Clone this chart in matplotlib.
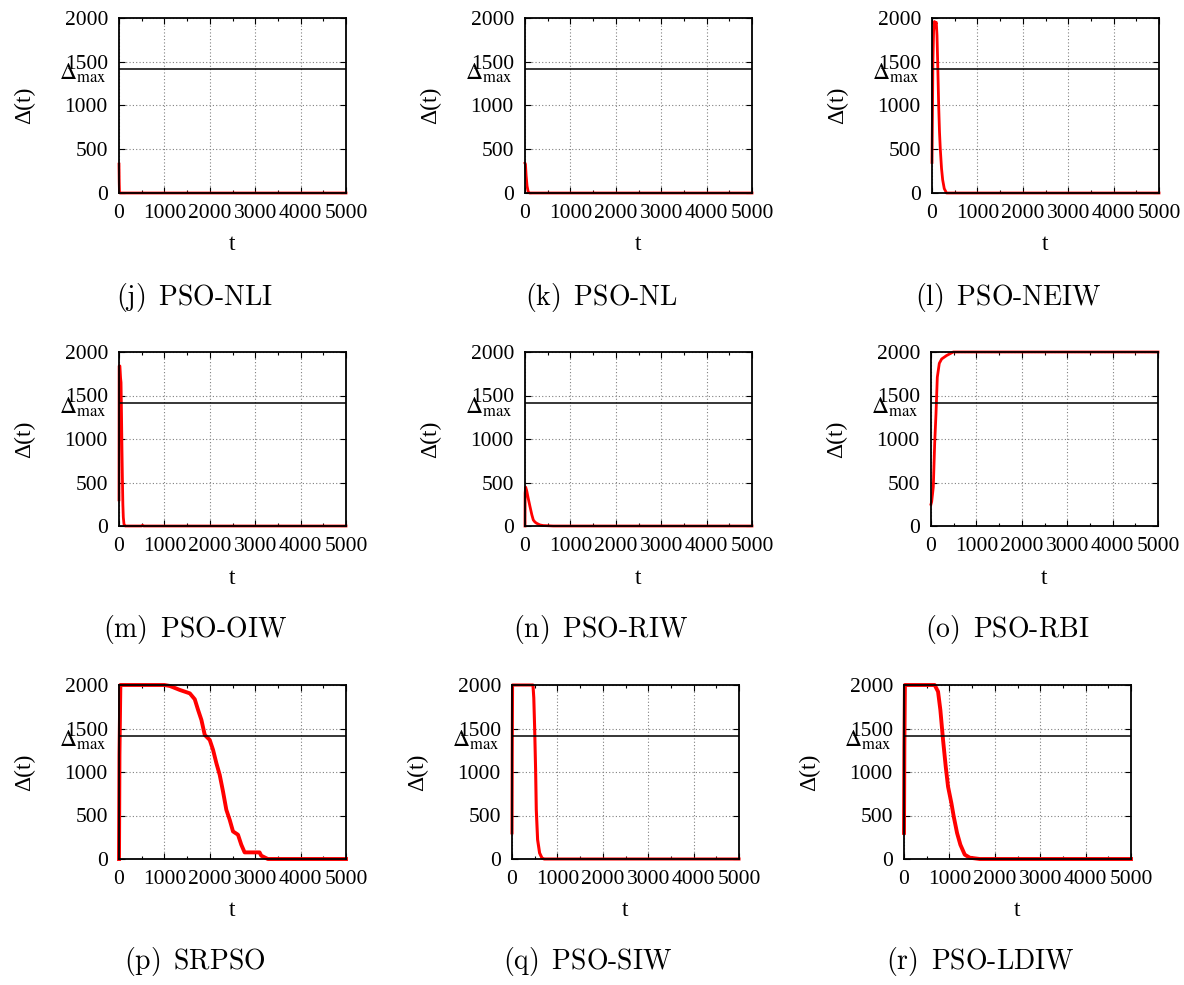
import matplotlib
matplotlib.use("Agg")
import matplotlib.pyplot as plt
import matplotlib.transforms as mtransforms
from matplotlib.ticker import MultipleLocator

plt.rcParams['font.family'] = 'serif'
plt.rcParams['font.serif'] = ['Liberation Serif', 'DejaVu Serif']
plt.rcParams['mathtext.fontset'] = 'stix'

DELTA_MAX = 1414

tags = ['(j)', '(k)', '(l)', '(m)', '(n)', '(o)', '(p)', '(q)', '(r)']
names = ['PSO-NLI', 'PSO-NL', 'PSO-NEIW',
         'PSO-OIW', 'PSO-RIW', 'PSO-RBI',
         'SRPSO', 'PSO-SIW', 'PSO-LDIW']

t_nli = [0, 5, 10, 20, 5000]
d_nli = [330, 120, 20, 0, 0]

t_nl = [0, 10, 25, 45, 70, 100, 5000]
d_nl = [340, 330, 200, 80, 15, 0, 0]

t_neiw = [0, 10, 20, 35, 55, 75, 95, 110, 125, 147, 165, 183, 210, 235, 270, 320, 5000]
d_neiw = [350, 900, 1500, 1850, 1960, 1930, 1950, 1800, 1500, 1000, 700, 500, 280, 150, 50, 0, 0]

t_oiw = [0, 3, 20, 35, 45, 55, 65, 75, 85, 95, 110, 140, 500, 520, 540, 5000]
d_oiw = [300, 1840, 1840, 1700, 1650, 1300, 900, 550, 250, 100, 20, 0, 0, 8, 0, 0]

t_riw = [0, 3, 15, 40, 70, 110, 150, 183, 220, 257, 330, 403, 500, 620, 5000]
d_riw = [0, 380, 446, 400, 320, 223, 130, 69, 45, 31, 12, 5, 3, 0, 0]

t_rbi = [0, 15, 51, 81, 110, 139, 183, 235, 345, 490, 5000]
d_rbi = [250, 280, 450, 950, 1290, 1710, 1870, 1920, 1960, 2000, 2000]

t_srpso = [0, 10, 30, 1000, 1120, 1340, 1560, 1669, 1742, 1815, 1889, 1998, 2072, 2145,
           2218, 2291, 2364, 2438, 2511, 2621, 2694, 2767, 3096, 3133, 3279, 5000]
d_srpso = [0, 1200, 2000, 2000, 1989, 1943, 1904, 1836, 1713, 1599, 1426, 1369, 1254, 1101,
           967, 776, 566, 451, 317, 279, 164, 76, 76, 38, 0, 0]

t_siw = [0, 5, 12, 462, 480, 498, 520, 535, 564, 608, 660, 711, 5000]
d_siw = [300, 1200, 2000, 2000, 1850, 1522, 1025, 566, 222, 69, 11, 0, 0]

t_ldiw = [0, 8, 20, 676, 750, 801, 860, 919, 970, 1044, 1095, 1169, 1242, 1338, 1448, 1668, 5000]
d_ldiw = [300, 1300, 2000, 2000, 1924, 1713, 1369, 1063, 832, 642, 489, 298, 164, 50, 15, 0, 0]

series = [(t_nli, d_nli), (t_nl, d_nl), (t_neiw, d_neiw),
          (t_oiw, d_oiw), (t_riw, d_riw), (t_rbi, d_rbi),
          (t_srpso, d_srpso), (t_siw, d_siw), (t_ldiw, d_ldiw)]
line_widths = [2.0, 2.0, 2.0, 2.0, 2.0, 2.0, 2.8, 2.2, 2.8]

W, H = 1184, 985
fig = plt.figure(figsize=(W / 100, H / 100), dpi=100)

# panel frames in pixels: left edge per panel, top/bottom per row
lefts = [119, 525, 932, 119, 525, 931, 119, 512, 904]
rows = [(18, 193), (352, 526), (685, 859)]
caption_y = [297, 630, 962]
aw = 227

for i, (tt, dd) in enumerate(series):
    top, bot = rows[i // 3]
    left = lefts[i]
    ax = fig.add_axes([left / W, 1 - bot / H, aw / W, (bot - top) / H])
    ax.plot(tt, dd, color='#ff0000', lw=line_widths[i], clip_on=False, zorder=2)
    ax.axhline(DELTA_MAX, color='black', lw=1.1, zorder=2.2)
    ax.set_xlim(0, 5000)
    ax.set_ylim(0, 2000)
    ax.xaxis.set_major_locator(MultipleLocator(1000))
    ax.xaxis.set_minor_locator(MultipleLocator(500))
    ax.yaxis.set_major_locator(MultipleLocator(500))
    ax.grid(True, which='major', color='#808080', ls=(0, (1, 2)), lw=0.8)
    ax.tick_params(which='both', direction='in', top=True, right=True, labelsize=15.5, pad=8)
    ax.tick_params(which='major', length=4, width=0.8)
    ax.tick_params(which='minor', length=2.5, width=0.8)
    for sp in ax.spines.values():
        sp.set_linewidth(1.3)

    ax.text(-94 / aw, 0.5, 'Δ(t)', rotation=90, transform=ax.transAxes,
            ha='center', va='center', fontsize=17)
    ax.text(0.5, -52 / (bot - top), 't', transform=ax.transAxes,
            ha='center', va='center', fontsize=17)

    trans = mtransforms.blended_transform_factory(ax.transAxes, ax.transData)
    trans = mtransforms.offset_copy(trans, fig=fig, y=-3, units='points')
    ax.text(-0.055, DELTA_MAX, r'$\Delta_{\mathrm{max}}$', transform=trans,
            ha='right', va='center', fontsize=17)

    caption = tags[i] + r' $\,$' + names[i]
    fig.text((left + 76) / W, 1 - caption_y[i // 3] / H, caption,
             ha='center', va='center', fontsize=20, family='cmr10')

fig.savefig('out.png', dpi=100)
